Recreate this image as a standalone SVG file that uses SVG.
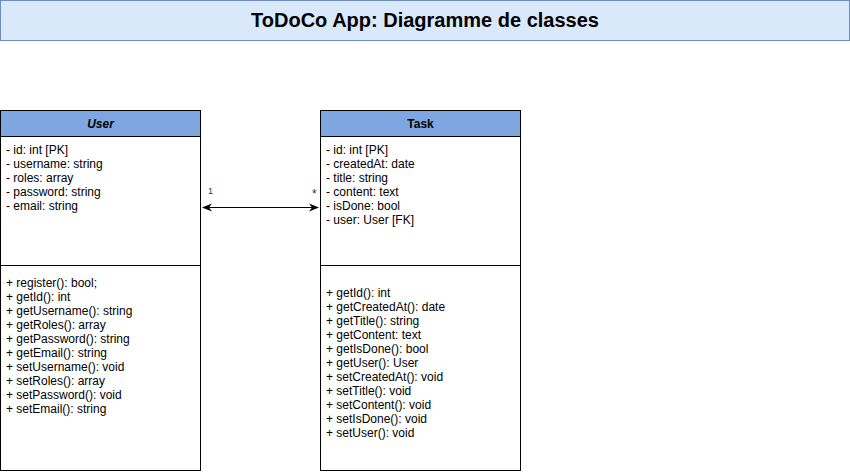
<svg xmlns="http://www.w3.org/2000/svg" width="850" height="474" viewBox="0 0 850 474">
<defs>
<style>
text{font-family:"Liberation Sans",Arial,sans-serif;fill:#000}
.m{font-size:12px}
.h{font-size:12px;font-weight:bold}
.box{fill:#fff;stroke:#000;stroke-width:1}
.hd{fill:#7ea6e0;stroke:#000;stroke-width:1}
.lbl{font-size:10px;fill:#333}
</style>
<marker id="ah" viewBox="0 0 10 10" refX="9" refY="5" markerWidth="10" markerHeight="10" markerUnits="userSpaceOnUse" orient="auto-start-reverse">
<path d="M0,1 L10,5 L0,9 L3,5 Z" fill="#000"/>
</marker>
</defs>
<rect width="850" height="474" fill="#fff"/>
<g id="title">
<rect x="0.5" y="0.5" width="849" height="40" fill="#dae8fc" stroke="#6c8ebf"/>
<text x="425" y="27" text-anchor="middle" style="font-size:20px;font-weight:bold">ToDoCo App: Diagramme de classes</text>
</g>
<g id="user">
<rect class="box" x="0.5" y="110.5" width="200" height="360"/>
<rect class="hd" x="0.5" y="110.5" width="200" height="26"/>
<line x1="0.5" y1="265.5" x2="200.5" y2="265.5" stroke="#000"/>
<text x="100.5" y="128" text-anchor="middle" class="h" font-style="italic">User</text>
<text class="m" x="6">
<tspan x="6" y="154">- id: int [PK]</tspan>
<tspan x="6" y="168">- username: string</tspan>
<tspan x="6" y="182">- roles: array</tspan>
<tspan x="6" y="196">- password: string</tspan>
<tspan x="6" y="210">- email: string</tspan>
</text>
<text class="m">
<tspan x="6" y="287">+ register(): bool;</tspan>
<tspan x="6" y="301">+ getId(): int</tspan>
<tspan x="6" y="315">+ getUsername(): string</tspan>
<tspan x="6" y="329">+ getRoles(): array</tspan>
<tspan x="6" y="343">+ getPassword(): string</tspan>
<tspan x="6" y="357">+ getEmail(): string</tspan>
<tspan x="6" y="371">+ setUsername(): void</tspan>
<tspan x="6" y="385">+ setRoles(): array</tspan>
<tspan x="6" y="399">+ setPassword(): void</tspan>
<tspan x="6" y="413">+ setEmail(): string</tspan>
</text>
</g>
<g id="task">
<rect class="box" x="320.5" y="110.5" width="200" height="360"/>
<rect class="hd" x="320.5" y="110.5" width="200" height="26"/>
<line x1="320.5" y1="265.5" x2="520.5" y2="265.5" stroke="#000"/>
<text x="420.5" y="128" text-anchor="middle" class="h">Task</text>
<text class="m">
<tspan x="326" y="154">- id: int [PK]</tspan>
<tspan x="326" y="168">- createdAt: date</tspan>
<tspan x="326" y="182">- title: string</tspan>
<tspan x="326" y="196">- content: text</tspan>
<tspan x="326" y="210">- isDone: bool</tspan>
<tspan x="326" y="224">- user: User [FK]</tspan>
</text>
<text class="m">
<tspan x="326" y="297">+ getId(): int</tspan>
<tspan x="326" y="311">+ getCreatedAt(): date</tspan>
<tspan x="326" y="325">+ getTitle(): string</tspan>
<tspan x="326" y="339">+ getContent: text</tspan>
<tspan x="326" y="353">+ getIsDone(): bool</tspan>
<tspan x="326" y="367">+ getUser(): User</tspan>
<tspan x="326" y="381">+ setCreatedAt(): void</tspan>
<tspan x="326" y="395">+ setTitle(): void</tspan>
<tspan x="326" y="409">+ setContent(): void</tspan>
<tspan x="326" y="423">+ setIsDone(): void</tspan>
<tspan x="326" y="437">+ setUser(): void</tspan>
</text>
</g>
<g id="connectors">
<line x1="203" y1="207.5" x2="318" y2="207.5" stroke="#000" stroke-width="1" marker-start="url(#ah)" marker-end="url(#ah)"/>
<text class="lbl" x="208" y="194" style="font-size:9px">1</text>
<text class="lbl" x="312" y="198" style="font-size:12px">*</text>
</g>
</svg>
